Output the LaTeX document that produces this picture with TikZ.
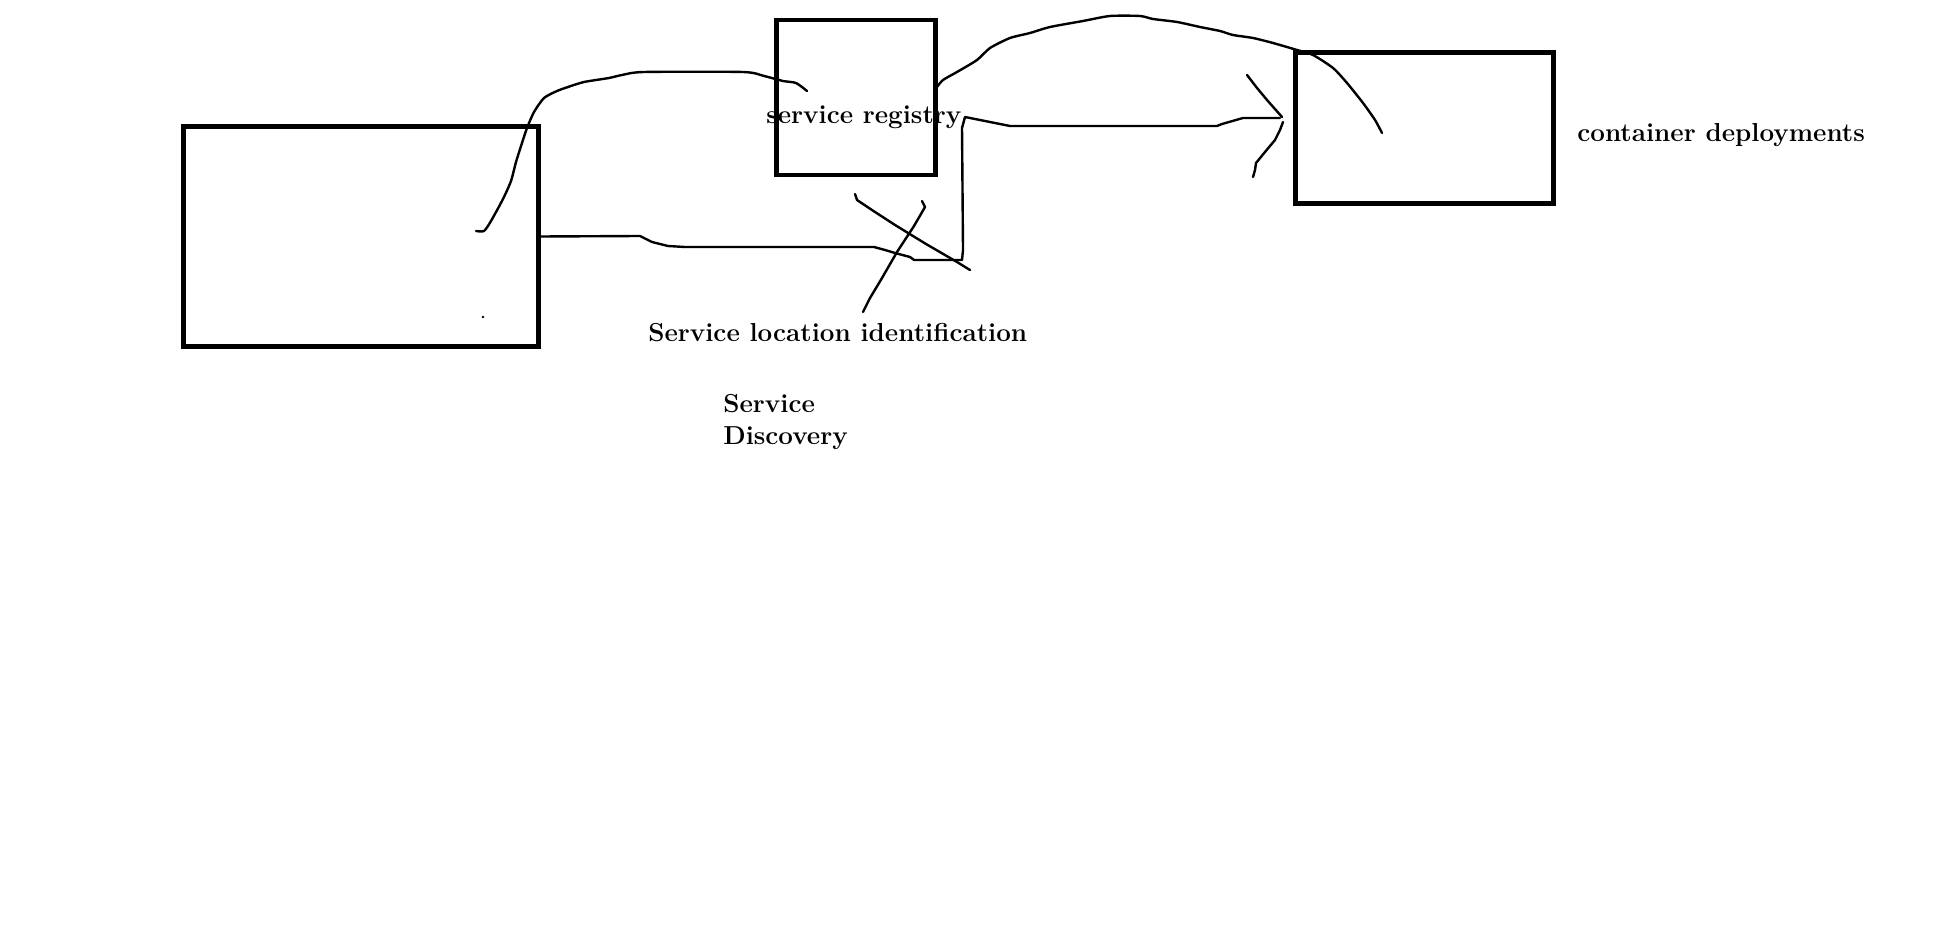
\documentclass[tikz,border=0pt]{standalone}
\usepackage{tikz}

\begin{document}
\begin{tikzpicture}[x=0.02cm,y=-0.02cm,
  box/.style={draw, line width=0.095cm, inner sep=0pt},
  sketch/.style={line width=0.048cm, line join=round, line cap=round},
  tag/.style={inner sep=0pt, font=\fontsize{14.8}{18}\selectfont\bfseries}]
  \useasboundingbox (0,0) rectangle (1949,952);

  \node[box, minimum width=7.09cm, minimum height=4.39cm] (client) at (361,236.5) {};
  \node[box, minimum width=3.17cm, minimum height=3.1cm] (registry) at (856,97.5) {};
  \node[box, minimum width=5.15cm, minimum height=3.01cm] (deploy) at (1424.5,128) {};

  \node[tag, anchor=base west] (reglabel) at (766,124) {service registry};
  \node[tag, anchor=base west] (deploylabel) at (1577,142) {container deployments};
  \node[tag, anchor=base west] (locate) at (648,342) {Service location identification};
  \node[tag, anchor=north west, align=left] (discovery) at (723,394) {Service\\Discovery};

  % client up to the registry
  \draw[sketch] plot[smooth, tension=0.4] coordinates {(476,231) (484,231) (491,221) (503,199)
    (511,181) (516,162) (522,143) (527,128) (534,112) (544,98) (557,91) (568,87) (584,82)
    (609,78) (622,75) (644,72) (743,72) (764,76) (783,81) (796,83) (807,91)};

  % client along the bottom, up and across to the deployments
  \draw[sketch] (client.east) -- (640,236) -- (652,242) -- (668,246) -- (685,247) -- (874,247)
    -- (885,250) -- (895,253) -- (910,257) -- (914,260) -- (962,260) -- (963,250) -- (962,128)
    -- (965,117) -- (1010,126) -- (1217,126) -- (1222,124) -- (1243,118) -- (1280,118);
  \draw[sketch] (1247,75) -- (1257,88) -- (1267,100) -- (1282,117);
  \draw[sketch] (1283,122) -- (1280,130) -- (1275,140) -- (1265,152) -- (1256,163) -- (1255,170) -- (1253,177);

  % registry over the top into the deployments
  \draw[sketch] plot[smooth, tension=0.4] coordinates {(937,87) (943,80) (957,72) (977,60)
    (990,48) (1010,38) (1030,33) (1050,27) (1083,21) (1110,16) (1140,16) (1153,19) (1177,22)
    (1200,27) (1220,31) (1233,35) (1253,38) (1273,43) (1297,50) (1313,55) (1333,68) (1347,83)
    (1363,103) (1375,120) (1382,133)};

  % crossing strokes
  \draw[sketch] (855,194) -- (857,200) -- (875,212) -- (895,225) -- (926,244) -- (957,262) -- (970,270);
  \draw[sketch] (922,201) -- (925,207) -- (914,226) -- (897,252) -- (882,278) -- (870,298) -- (863,312);

  \fill (483,317) circle (0.8pt);
\end{tikzpicture}
\end{document}
